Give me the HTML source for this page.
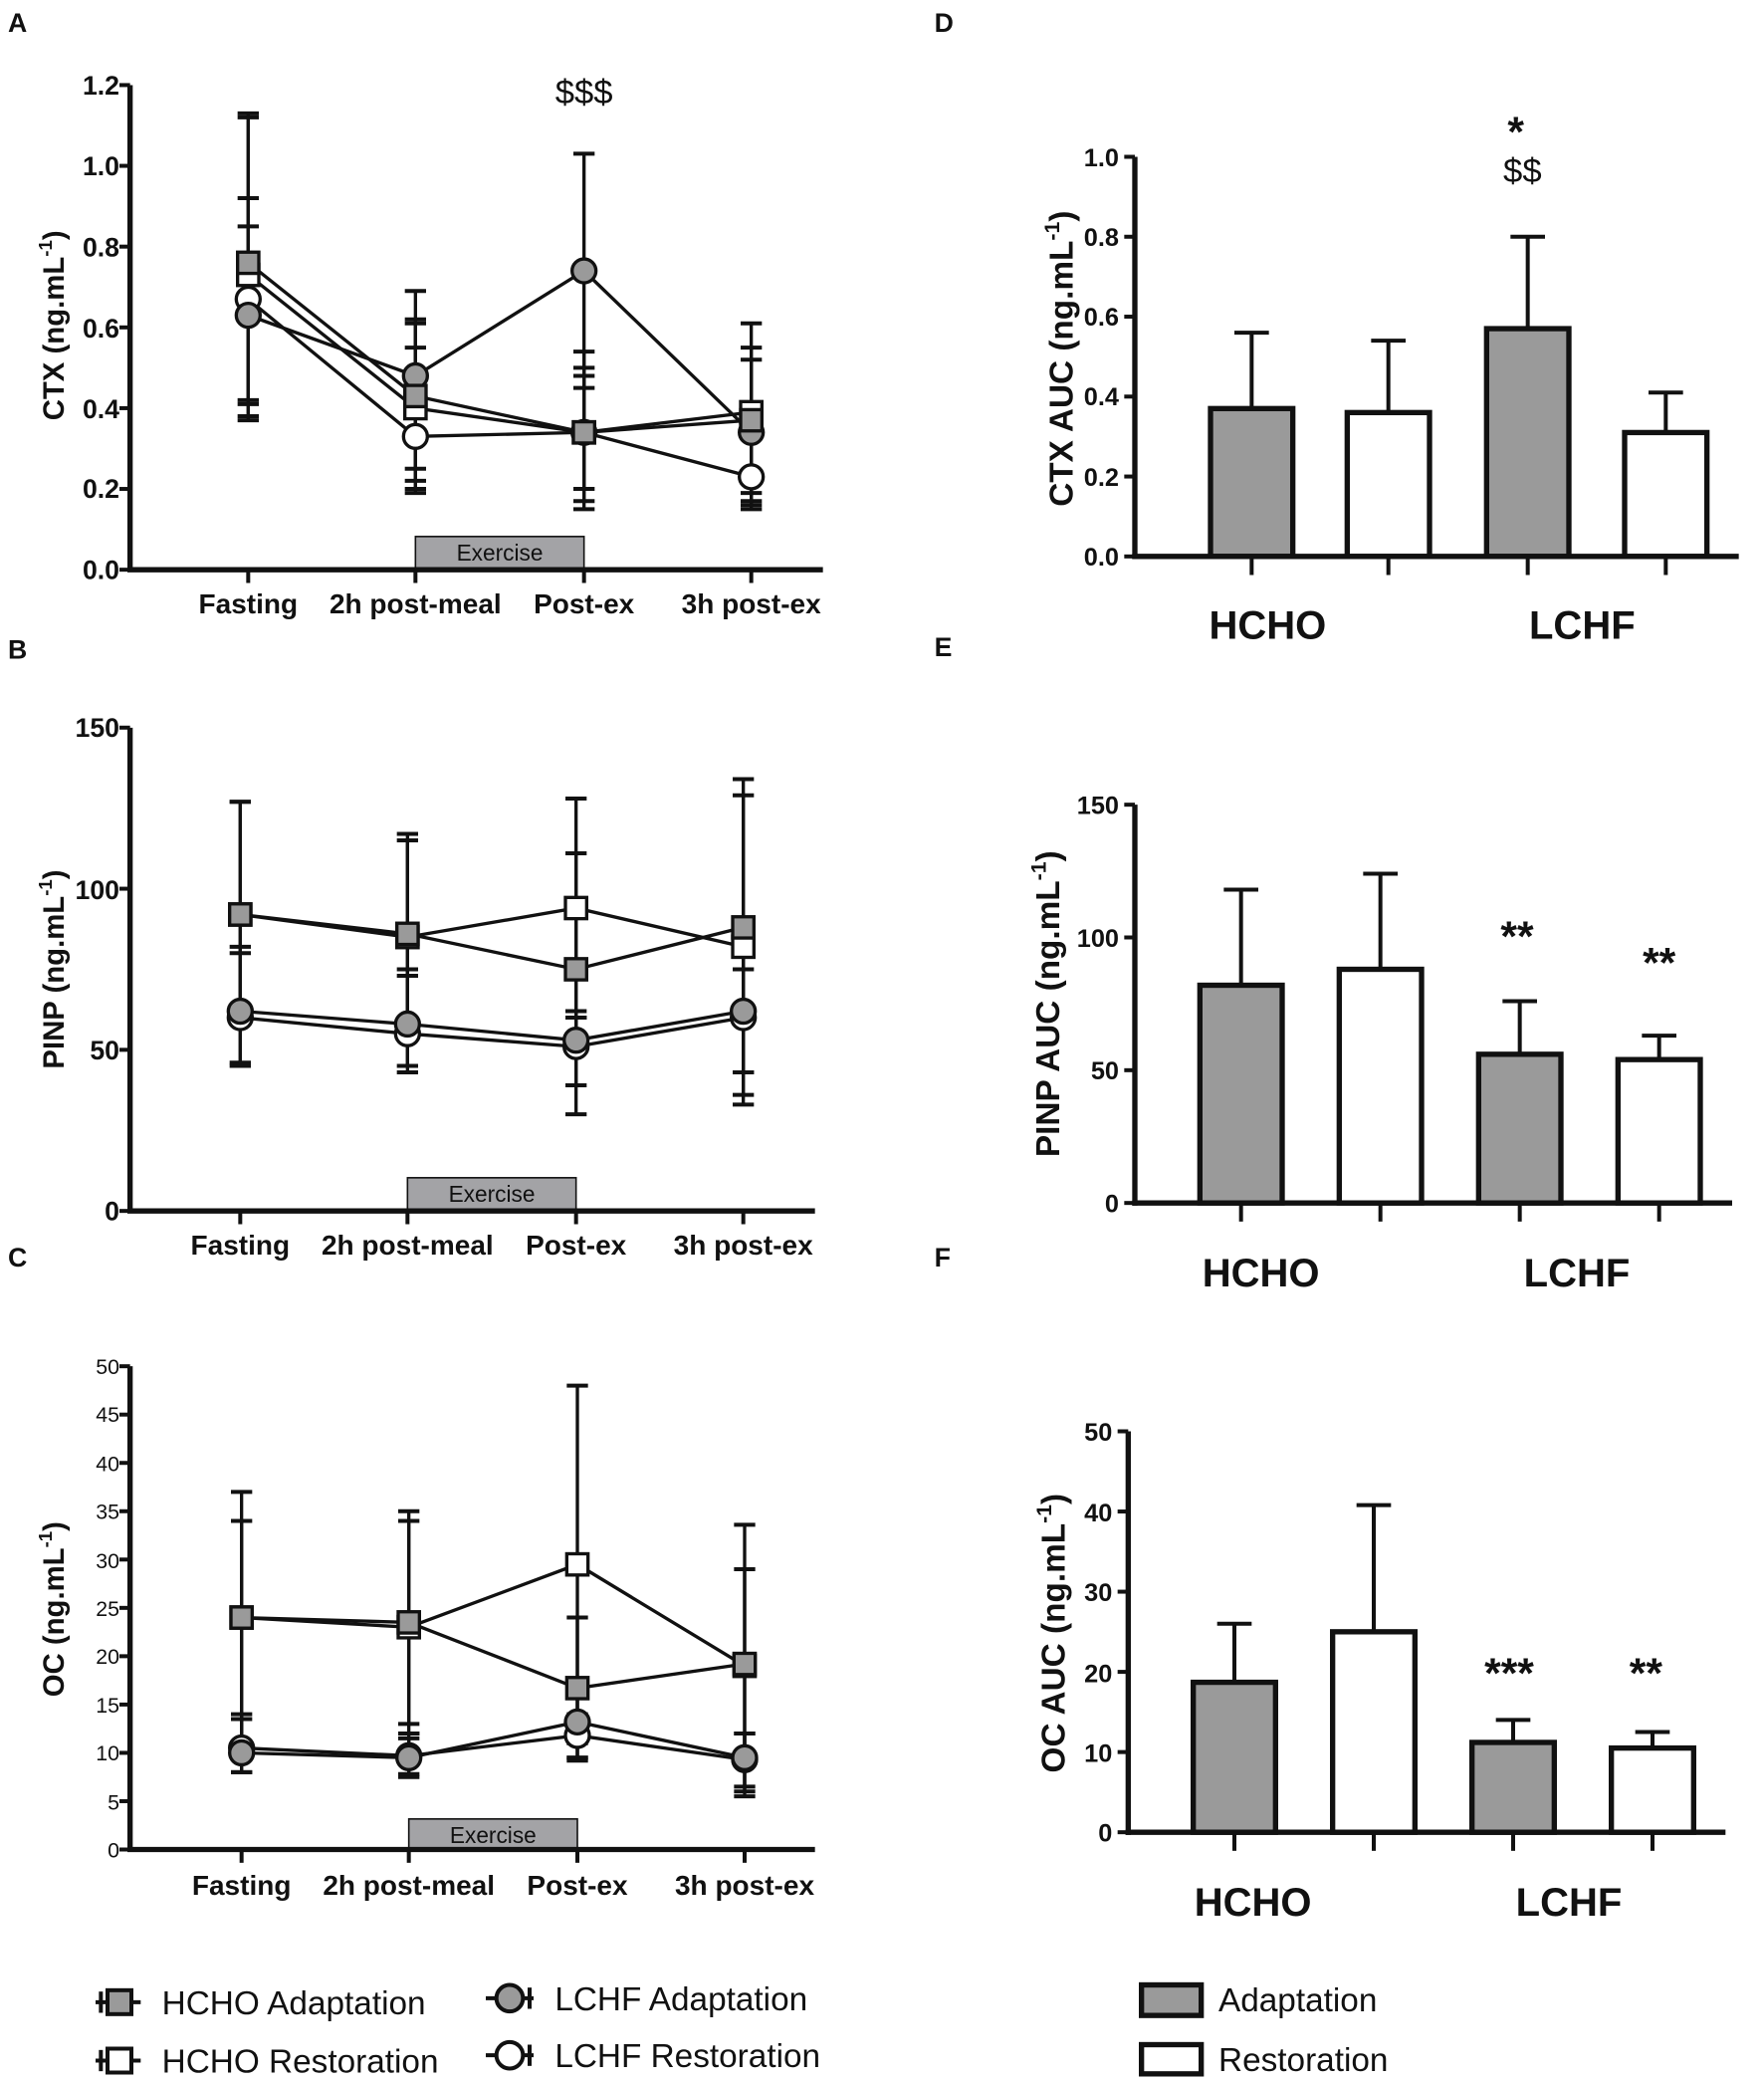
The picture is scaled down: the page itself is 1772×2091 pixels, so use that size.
<!DOCTYPE html>
<html><head><meta charset="utf-8"><style>
html,body{margin:0;padding:0;background:#fff}
svg{display:block}
text{font-family:"Liberation Sans Narrow","Liberation Sans",sans-serif;font-weight:bold;fill:#111}
.n{font-family:"Liberation Sans",sans-serif;font-weight:normal}
.w{font-family:"Liberation Sans",sans-serif;font-weight:bold}
</style></head><body>
<svg id="s" width="1772" height="2091" viewBox="0 0 1329 1568" xmlns="http://www.w3.org/2000/svg">
<g font-size="20">
<text x="6" y="24" font-size="20">A</text><text x="704" y="24">D</text>
<text x="6" y="496">B</text><text x="704" y="494">E</text>
<text x="6" y="954">C</text><text x="704" y="954">F</text>
</g>
<g font-size="20" text-anchor="end">
<text x="90" y="71">1.2</text><text x="90" y="132">1.0</text><text x="90" y="193">0.8</text><text x="90" y="254">0.6</text><text x="90" y="315">0.4</text><text x="90" y="375">0.2</text><text x="90" y="436">0.0</text>
</g>
<g font-size="21" text-anchor="middle">
<text x="187" y="462">Fasting</text><text x="313" y="462">2h post-meal</text><text x="440" y="462">Post-ex</text><text x="566" y="462">3h post-ex</text>
<text x="181" y="945">Fasting</text><text x="307" y="945">2h post-meal</text><text x="434" y="945">Post-ex</text><text x="560" y="945">3h post-ex</text>
<text x="182" y="1427">Fasting</text><text x="308" y="1427">2h post-meal</text><text x="435" y="1427">Post-ex</text><text x="561" y="1427">3h post-ex</text>
</g>
<text x="440" y="78" font-size="26" text-anchor="middle" class="n">$$$</text>
<text class="w" font-size="22" transform="translate(48,245) rotate(-90)" text-anchor="middle">CTX (ng.mL<tspan font-size="14" dy="-9">-1</tspan><tspan dy="9">)</tspan></text>
<g font-size="20" text-anchor="end">
<text x="90" y="555">150</text><text x="90" y="677">100</text><text x="90" y="798">50</text><text x="90" y="919">0</text>
</g>
<text class="w" font-size="22" transform="translate(48,730) rotate(-90)" text-anchor="middle">PINP (ng.mL<tspan font-size="14" dy="-9">-1</tspan><tspan dy="9">)</tspan></text>
<g font-size="16" text-anchor="end" class="n">
<text class="n" x="90" y="1035">50</text><text class="n" x="90" y="1071">45</text><text class="n" x="90" y="1108">40</text><text class="n" x="90" y="1144">35</text><text class="n" x="90" y="1181">30</text><text class="n" x="90" y="1217">25</text><text class="n" x="90" y="1253">20</text><text class="n" x="90" y="1290">15</text><text class="n" x="90" y="1326">10</text><text class="n" x="90" y="1363">5</text><text class="n" x="90" y="1399">0</text>
</g>
<text class="w" font-size="22" transform="translate(48,1212) rotate(-90)" text-anchor="middle">OC (ng.mL<tspan font-size="14" dy="-9">-1</tspan><tspan dy="9">)</tspan></text>
<g font-size="19" text-anchor="end" class="w">
<text class="w" x="843" y="125">1.0</text><text class="w" x="843" y="185">0.8</text><text class="w" x="843" y="245">0.6</text><text class="w" x="843" y="305">0.4</text><text class="w" x="843" y="366">0.2</text><text class="w" x="843" y="426">0.0</text>
<text class="w" x="843" y="613">150</text><text class="w" x="843" y="713">100</text><text class="w" x="843" y="813">50</text><text class="w" x="843" y="913">0</text>
<text class="w" x="838" y="1085">50</text><text class="w" x="838" y="1146">40</text><text class="w" x="838" y="1206">30</text><text class="w" x="838" y="1267">20</text><text class="w" x="838" y="1327">10</text><text class="w" x="838" y="1387">0</text>
</g>
<g class="w" font-size="30" text-anchor="middle">
<text class="w" x="955" y="481">HCHO</text><text class="w" x="1192" y="481">LCHF</text>
<text class="w" x="950" y="969">HCHO</text><text class="w" x="1188" y="969">LCHF</text>
<text class="w" x="944" y="1443">HCHO</text><text class="w" x="1182" y="1443">LCHF</text>
</g>
<text class="w" font-size="25" transform="translate(808,270) rotate(-90)" text-anchor="middle">CTX AUC (ng.mL<tspan font-size="16" dy="-10">-1</tspan><tspan dy="10">)</tspan></text>
<text class="w" font-size="25" transform="translate(798,756) rotate(-90)" text-anchor="middle">PINP AUC (ng.mL<tspan font-size="16" dy="-10">-1</tspan><tspan dy="10">)</tspan></text>
<text class="w" font-size="25" transform="translate(802,1230) rotate(-90)" text-anchor="middle">OC AUC (ng.mL<tspan font-size="16" dy="-10">-1</tspan><tspan dy="10">)</tspan></text>
<g class="w" font-size="32" text-anchor="middle">
<text class="w" x="1142" y="110">*</text>
<text class="w" x="1143" y="716">**</text><text class="w" x="1250" y="736">**</text>
<text class="w" x="1137" y="1271">***</text><text class="w" x="1240" y="1271">**</text>
</g>
<text class="n" x="1147" y="137" font-size="26" text-anchor="middle">$$</text>
<g class="n" font-size="25">
<text class="n" x="122" y="1517">HCHO Adaptation</text><text class="n" x="122" y="1561">HCHO Restoration</text>
<text class="n" x="418" y="1514">LCHF Adaptation</text><text class="n" x="418" y="1557">LCHF Restoration</text>
<text class="n" x="918" y="1515">Adaptation</text><text class="n" x="918" y="1560">Restoration</text>
</g>
<g stroke="#111" stroke-width="3" fill="none">
<line x1="72" y1="1508" x2="106" y2="1508"/><line x1="76" y1="1500" x2="76" y2="1516"/>
<rect x="81" y="1499" width="18" height="18" fill="#9a9a9a"/>
<line x1="72" y1="1552" x2="106" y2="1552"/><line x1="76" y1="1544" x2="76" y2="1560"/>
<rect x="81" y="1543" width="18" height="18" fill="#fff"/>
<line x1="366" y1="1505" x2="402" y2="1505"/><line x1="399" y1="1497" x2="399" y2="1513"/>
<circle cx="384" cy="1505" r="10" fill="#9a9a9a"/>
<line x1="366" y1="1548" x2="402" y2="1548"/><line x1="399" y1="1540" x2="399" y2="1556"/>
<circle cx="384" cy="1548" r="10" fill="#fff"/>
<rect x="860" y="1495" width="45" height="23" fill="#9a9a9a" stroke-width="4"/>
<rect x="860" y="1540" width="45" height="22" fill="#fff" stroke-width="4"/>
</g>
<g id="g"></g>
</svg>
<script>
var g=document.getElementById('g'),h='';
function L(a,b,c,d,w){h+='<line x1="'+a+'" y1="'+b+'" x2="'+c+'" y2="'+d+'" stroke="#111" stroke-width="'+(w||2.5)+'"/>';}
function line(p){
 var Y=function(v){return p.y0-(v-0)*p.k;};
 h+='<rect x="'+p.xs[1]+'" y="'+p.ex+'" width="'+(p.xs[2]-p.xs[1])+'" height="'+(p.y0-p.ex)+'" fill="#a3a3a6" stroke="#111" stroke-width="1.2"/>';
 h+='<text class="n" x="'+(p.xs[1]+p.xs[2])/2+'" y="'+(p.ex+18)+'" font-size="17" text-anchor="middle" style="font-family:Liberation Sans;font-weight:normal">Exercise</text>';
 L(p.ax,p.yt,p.ax,p.y0+1.5,4);L(p.ax-2,p.y0,p.xe,p.y0,4);
 p.ticks.forEach(function(v){L(p.ax-8,Y(v),p.ax,Y(v),3);});
 p.xs.forEach(function(x){L(x,p.y0,x,p.y0+10,3);});
 p.s.forEach(function(s){
  for(var i=0;i<4;i++){var x=p.xs[i];L(x,Y(s.hi[i]),x,Y(s.lo[i]),2.5);L(x-8,Y(s.hi[i]),x+8,Y(s.hi[i]),3);L(x-8,Y(s.lo[i]),x+8,Y(s.lo[i]),3);}
 });
 p.s.forEach(function(s){
  var pts=s.v.map(function(v,i){return p.xs[i]+','+Y(v);}).join(' ');
  h+='<polyline points="'+pts+'" fill="none" stroke="#111" stroke-width="2.5"/>';
 });
 p.s.forEach(function(s){
  s.v.forEach(function(v,i){var x=p.xs[i],y=Y(v);
   if(s.sq)h+='<rect x="'+(x-8)+'" y="'+(y-8)+'" width="16" height="16" fill="'+s.f+'" stroke="#111" stroke-width="2.5"/>';
   else h+='<circle cx="'+x+'" cy="'+y+'" r="9" fill="'+s.f+'" stroke="#111" stroke-width="2.5"/>';});
 });
}
var G='#9a9a9a',W='#fff';
line({ax:98,yt:64,y0:429,k:304.2,xe:620,ex:404,xs:[187,313,440,566],ticks:[0,.2,.4,.6,.8,1,1.2],s:[
 {v:[.67,.33,.34,.23],hi:[.85,.55,.48,.35],lo:[.37,.25,.2,.19],f:W},
 {v:[.63,.48,.74,.34],hi:[.92,.62,1.03,.52],lo:[.38,.22,.45,.17],f:G},
 {v:[.73,.40,.34,.39],hi:[1.12,.61,.50,.55],lo:[.41,.19,.17,.16],f:W,sq:1},
 {v:[.76,.43,.34,.37],hi:[1.13,.69,.54,.61],lo:[.42,.20,.15,.15],f:G,sq:1}]});
line({ax:98,yt:548,y0:912,k:2.427,xe:614,ex:887,xs:[181,307,434,560],ticks:[0,50,100,150],s:[
 {v:[60,55,51,60],hi:[80,73,60,75],lo:[46,45,30,33],f:W},
 {v:[62,58,53,62],hi:[82,75,62,80],lo:[45,43,39,36],f:G},
 {v:[92,85,94,82],hi:[127,115,128,129],lo:[58,55,60,43],f:W,sq:1},
 {v:[92,86,75,88],hi:[127,117,111,134],lo:[58,57,50,43],f:G,sq:1}]});
line({ax:98,yt:1029,y0:1393,k:7.28,xe:614,ex:1370,xs:[182,308,435,561],ticks:[0,5,10,15,20,25,30,35,40,45,50],s:[
 {v:[10.5,9.7,11.8,9.3],hi:[13.5,12,14,12],lo:[8,7.5,9.2,6.5],f:W},
 {v:[10,9.5,13.2,9.5],hi:[14,11.5,17,12],lo:[8,7.8,9.5,5.5],f:G},
 {v:[24,23,29.5,19],hi:[34,34,48,29],lo:[11,12,11,9],f:W,sq:1},
 {v:[24,23.5,16.7,19.2],hi:[37,35,24,33.6],lo:[11,13,9.5,6],f:G,sq:1}]});
function bars(p){
 var Y=function(v){return p.y0-v*p.k;};
 p.b.forEach(function(b,i){var x=p.xs[i];
  L(x,Y(b[0]),x,Y(b[1]),3);L(x-13,Y(b[1]),x+13,Y(b[1]),3);
  h+='<rect x="'+(x-31)+'" y="'+Y(b[0])+'" width="62" height="'+(p.y0-Y(b[0]))+'" fill="'+(i%2?'#fff':'#9a9a9a')+'" stroke="#111" stroke-width="4"/>';
  L(x,p.y0,x,p.y0+14,3);
 });
 L(p.ax,p.yt,p.ax,p.y0+2,4);L(p.ax-2,p.y0,p.xe,p.y0,4);
 p.ticks.forEach(function(v){L(p.ax-8,Y(v),p.ax,Y(v),3);});
}
bars({ax:855,yt:118,y0:419,k:301,xe:1310,xs:[943,1046,1151,1255],ticks:[0,.2,.4,.6,.8,1],b:[[.37,.56],[.36,.54],[.57,.80],[.31,.41]]});
bars({ax:855,yt:606,y0:906,k:2,xe:1305,xs:[935,1040,1145,1250],ticks:[0,50,100,150],b:[[82,118],[88,124],[56,76],[54,63]]});
bars({ax:850,yt:1078,y0:1380,k:6.04,xe:1300,xs:[930,1035,1140,1245],ticks:[0,10,20,30,40,50],b:[[18.7,26],[25,40.8],[11.2,14],[10.5,12.5]]});
g.innerHTML=h;
</script>
</body></html>
